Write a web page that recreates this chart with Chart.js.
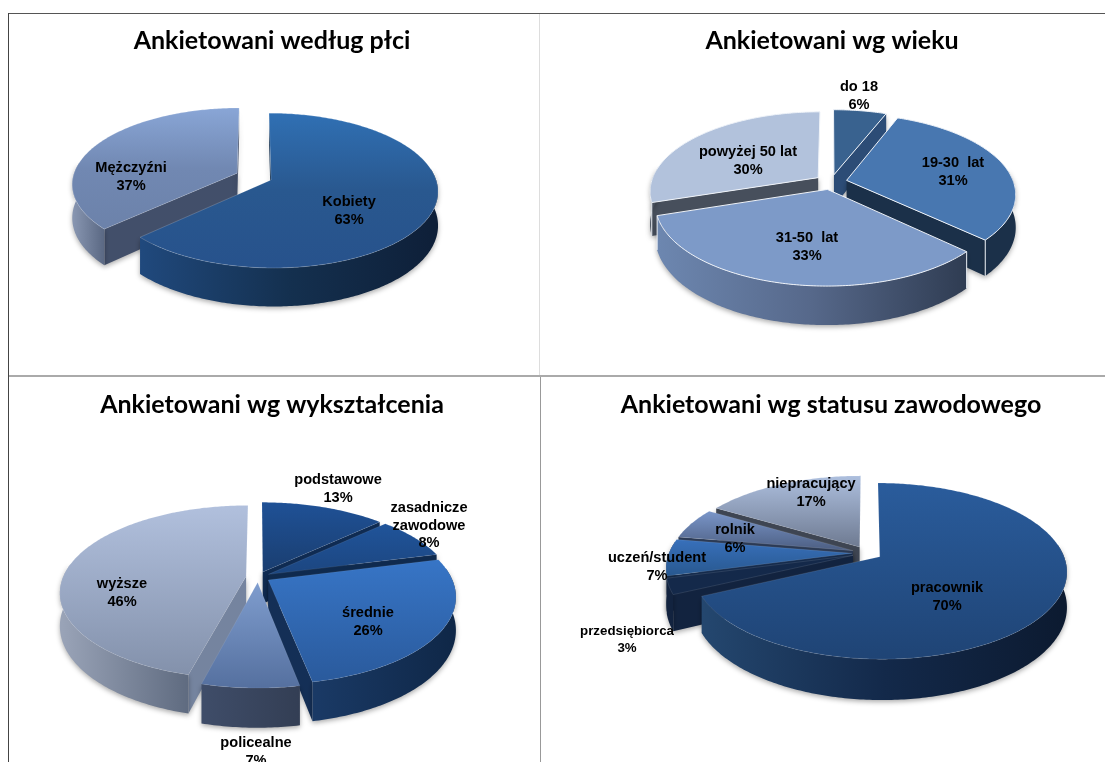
<!DOCTYPE html>
<html lang="pl"><head><meta charset="utf-8">
<script src="https://cdn.jsdelivr.net/npm/chart.js@4"></script>
<style>
html,body{margin:0;padding:0;background:#fff;width:1105px;height:762px;overflow:hidden}
canvas{position:absolute;background:transparent}
.l{position:absolute}
</style></head><body>
<div class="l" style="left:8px;top:13px;width:1097px;height:1px;background:#555"></div>
<div class="l" style="left:8px;top:13px;width:1px;height:749px;background:#444"></div>
<div class="l" style="left:539px;top:14px;width:1px;height:362px;background:#ddd"></div>
<div class="l" style="left:540px;top:376px;width:1px;height:386px;background:#999"></div>
<div class="l" style="left:9px;top:375px;width:1096px;height:2px;background:#aaa"></div>
<canvas id="c1" width="526" height="362" style="left:9px;top:14px"></canvas>
<canvas id="c2" width="582" height="362" style="left:541px;top:14px"></canvas>
<canvas id="c3" width="526" height="384" style="left:9px;top:378px"></canvas>
<canvas id="c4" width="580" height="384" style="left:541px;top:378px"></canvas>
<script>
// ---- data ----
const titles = ["Ankietowani według płci","Ankietowani wg wieku","Ankietowani wg wykształcenia","Ankietowani wg statusu zawodowego"];
const genderLabels = ["Kobiety","Mężczyźni"];
const genderValues = [63,37];
const ageLabels = ["do 18","19-30 lat","31-50 lat","powyżej 50 lat"];
const ageValues = [6,31,33,30];
const eduLabels = ["podstawowe","zasadnicze zawodowe","średnie","policealne","wyższe"];
const eduValues = [13,8,26,7,46];
const jobLabels = ["pracownik","przedsiębiorca","uczeń/student","rolnik","niepracujący"];
const jobValues = [70,3,7,6,17];

// ---- styling: [top gradient], [outer wall gradient], radial wall colour ----
const genderStyle = [
 {top:["#3070b4","#29588f","#27528c"],wall:["#20497d","#14304f","#0e1f38"],side:"#14304f"},
 {top:["#89a6d6","#7188b2","#6c82aa"],wall:["#8997b2","#5a6883"],side:"#424f6a"}];
const ageStyle = [
 {top:["#39628f","#39628f"],wall:["#2a4a72","#2a4a72"],side:"#2c4c76"},
 {top:["#4877b0","#4877b0"],wall:["#1b3049","#1b3049"],side:"#1b3049"},
 {top:["#7d9ac8","#7d9ac8"],wall:["#6d87b0","#56688a","#2f3c52"],side:"#3a4660"},
 {top:["#b2c2dc","#b2c2dc"],wall:["#474f5c","#474f5c"],side:"#474f5c"}];
const eduStyle = [
 {top:["#1f5196","#1a3e70"],wall:["#0f2a50","#0f2a50"],side:"#0f2b52"},
 {top:["#20549a","#1c4680"],wall:["#102c52","#102c52"],side:"#0f2a4e"},
 {top:["#3775c6","#2a5a9c"],wall:["#1a3a66","#0f2747"],side:"#142f56"},
 {top:["#7f9dce","#55709f"],wall:["#3f4d69","#333e54"],side:"#3c4a66"},
 {top:["#b1c0dd","#8391ab"],wall:["#9aa4b8","#5f6b80"],side:"#75849f"}];
const jobStyle = [
 {top:["#2a5c9c","#1f4475"],wall:["#24476f","#13294a","#0c1a30"],side:"#13294a"},
 {top:["#14294a","#14294a"],wall:["#12233f","#12233f"],side:"#12233f"},
 {top:["#3870bb","#28588f"],wall:["#122744","#122744"],side:"#142a4b"},
 {top:["#7a96c9","#4c5e82"],wall:["#2b3a55","#2b3a55"],side:"#2b3a55"},
 {top:["#adbfde","#6e7a91"],wall:["#3e4552","#3e4552"],side:"#3e4552"}];

// explosion of each slice
const genderOffset=[18.5,18.5], ageOffset=[16,16,16,16], eduOffset=[12,12,12,12,12], jobOffset=[15,15,15,15,15];

// 3D view of each pie
const views = [
 {ox:9,oy:14,cx:254,cy:176.5,rx:164,ry:75,k:.137,h:33,edge:"rgba(255,255,255,.18)"},
 {ox:541,oy:14,cx:831,cy:182,rx:167,ry:78,k:.165,h:32,edge:"#eef2f8",wallEdge:"#eef2f8"},
 {ox:9,oy:378,cx:258,cy:577,rx:183,ry:84,k:.182,h:32,edge:"rgba(255,255,255,.08)"},
 {ox:541,oy:378,cx:867,cy:553,rx:183,ry:84.5,k:.162,h:34,edge:"rgba(255,255,255,.1)"}];

// labels: text lines and centre of the lines in page pixels
const labelSets = [
 [{t:["Kobiety","63%"],x:349,y:202},{t:["Mężczyźni","37%"],x:131,y:168}],
 [{t:["do 18","6%"],x:859,y:87},{t:["19-30  lat","31%"],x:953,y:163},{t:["31-50  lat","33%"],x:807,y:238},{t:["powyżej 50 lat","30%"],x:748,y:152}],
 [{t:["podstawowe","13%"],x:338,y:480},{t:["zasadnicze","zawodowe","8%"],x:429,y:508},{t:["średnie","26%"],x:368,y:613},{t:["policealne","7%"],x:256,y:743},{t:["wyższe","46%"],x:122,y:584}],
 [{t:["pracownik","70%"],x:947,y:588},{t:["przedsiębiorca","3%"],x:627,y:631,size:13.3},{t:["uczeń/student","7%"],x:657,y:558},{t:["rolnik","6%"],x:735,y:530},{t:["niepracujący","17%"],x:811,y:484}]];

function grad(ctx,x0,y0,x1,y1,stops){
  const g=ctx.createLinearGradient(x0,y0,x1,y1);
  stops.forEach((c,i)=>g.addColorStop(i/(stops.length-1),c));
  return g;
}
const pie3d={
  id:'pie3d',
  beforeDatasetsDraw(chart,args,o){
    const ctx=chart.ctx,v=o.view,styles=o.styles,els=chart.getDatasetMeta(0).data;
    const proj=(u,w)=>{const s=1/(1-v.k*w);return {x:v.cx+v.rx*u*s-v.ox,y:v.cy+v.ry*w*s-v.oy,s};};
    const slices=els.map((el,i)=>{
      const p=el.getProps(['startAngle','endAngle']);
      const a0=p.startAngle,a1=p.endAngle,mid=(a0+a1)/2,off=el.options.offset||0;
      return {i,a0,a1,mid,du:off*Math.cos(mid)/v.rx,dw:off*Math.sin(mid)/v.rx};
    }).sort((a,b)=>Math.sin(a.mid)-Math.sin(b.mid));
    const poly=(pts)=>{ctx.beginPath();pts.forEach((q,j)=>j?ctx.lineTo(q.x,q.y):ctx.moveTo(q.x,q.y));ctx.closePath();};
    const down=q=>({x:q.x,y:q.y+v.h*q.s});
    slices.forEach(sl=>{
      const st=styles[sl.i];
      const P=t=>proj(Math.cos(t)+sl.du,Math.sin(t)+sl.dw);
      const T=proj(sl.du,sl.dw),n=Math.max(8,Math.ceil((sl.a1-sl.a0)*70));
      const arc=[];for(let j=0;j<=n;j++)arc.push(sl.a0+(sl.a1-sl.a0)*j/n);
      const M=P(sl.mid);
      ctx.save();
      ctx.shadowColor="rgba(0,0,0,.33)";ctx.shadowBlur=5;ctx.shadowOffsetY=2;
      [sl.a0,sl.a1].forEach(a=>{
        const E=P(a);
        if(Math.abs(E.x-T.x)<2)return;
        const ly=T.y+(E.y-T.y)*(M.x-T.x)/(E.x-T.x);
        if(M.y>=ly)return;
        poly([T,E,down(E),down(T)]);
        ctx.fillStyle=st.side;ctx.fill();
      });
      const front=arc.filter(t=>Math.sin(t)>-.15).map(P);
      if(front.length>1){
        const xs=front.map(q=>q.x);
        poly(front.concat(front.map(down).reverse()));
        ctx.fillStyle=grad(ctx,Math.min(...xs),0,Math.max(...xs),0,st.wall);
        ctx.fill();
        ctx.shadowColor="transparent";
        if(v.wallEdge){ctx.strokeStyle=v.wallEdge;ctx.lineWidth=1;
          [front[0],front[front.length-1]].forEach(q=>{ctx.beginPath();ctx.moveTo(q.x,q.y);const d=down(q);ctx.lineTo(d.x,d.y);ctx.stroke();});}
      }
      ctx.restore();
      const pts=[T].concat(arc.map(P));
      const ys=pts.map(q=>q.y);
      poly(pts);
      ctx.fillStyle=grad(ctx,0,Math.min(...ys),0,Math.max(...ys),st.top);
      ctx.fill();
      ctx.strokeStyle=v.edge;ctx.lineWidth=1;ctx.stroke();
    });
    return false;
  },
  afterDraw(chart,args,o){
    const ctx=chart.ctx,v=o.view;
    ctx.save();ctx.fillStyle="#000";ctx.textAlign="center";ctx.textBaseline="middle";
    o.labels.forEach(l=>{
      ctx.font="bold "+(l.size||14.6)+"px 'Liberation Sans'";
      l.t.forEach((s,j)=>ctx.fillText(s,l.x-v.ox,l.y-v.oy+j*17.5));
    });
    ctx.restore();
  }
};
function make(id,title,labels,values,offsets,styles,view,lab){
  return new Chart(document.getElementById(id),{
    type:'pie',
    data:{labels,datasets:[{data:values,offset:offsets,borderWidth:0,backgroundColor:styles.map(s=>s.top[0])}]},
    options:{responsive:false,animation:false,devicePixelRatio:1,
      plugins:{legend:{display:false},tooltip:{enabled:false},
        title:{display:true,text:title,color:"#000",font:{family:"Lato",weight:"bold",size:25,lineHeight:1.2},padding:{top:12,bottom:10}},
        pie3d:{view,styles,labels:lab}}},
    plugins:[pie3d]
  });
}
make('c1',titles[0],genderLabels,genderValues,genderOffset,genderStyle,views[0],labelSets[0]);
make('c2',titles[1],ageLabels,ageValues,ageOffset,ageStyle,views[1],labelSets[1]);
make('c3',titles[2],eduLabels,eduValues,eduOffset,eduStyle,views[2],labelSets[2]);
make('c4',titles[3],jobLabels,jobValues,jobOffset,jobStyle,views[3],labelSets[3]);
</script>
</body></html>
